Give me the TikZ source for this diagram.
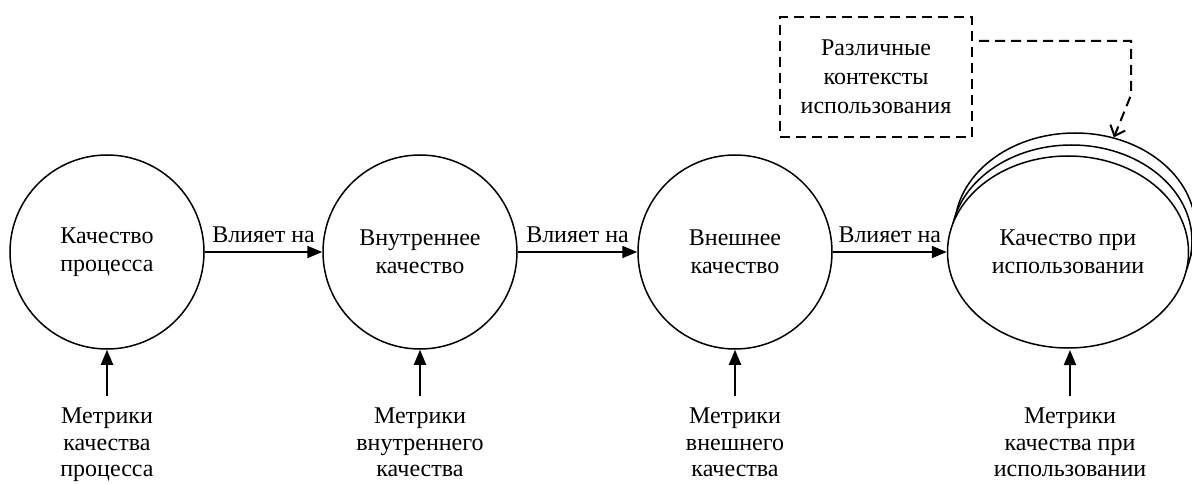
\documentclass[tikz,border=0pt]{standalone}
\usepackage{fontspec}
\setmainfont{Liberation Serif}
\usetikzlibrary{shapes.geometric,arrows.meta}
\begin{document}
\begin{tikzpicture}[x=1pt,y=-1pt,
  txt/.style={font=\fontsize{24}{27.5}\selectfont, align=center},
  circ/.style={circle, draw, line width=1.5pt, minimum size=194pt, inner sep=0pt, txt},
  ell/.style={ellipse, draw, line width=1.5pt, minimum width=241pt, minimum height=192pt, inner sep=0pt, txt, fill=white},
  flow/.style={line width=2pt, -{Triangle[length=15pt,width=12pt]}},
  lbl/.style={midway, above, inner sep=0pt, yshift=8pt, font=\fontsize{24}{27.5}\selectfont},
  metric/.style={font=\fontsize{24}{26.5}\selectfont, align=center, anchor=north, inner sep=0pt},
  dashbox/.style={draw, line width=2pt, dash pattern=on 10pt off 6pt, minimum width=192pt, minimum height=120pt, align=center, font=\fontsize{24}{29}\selectfont},
  dasharrow/.style={line width=2pt, dash pattern=on 10pt off 6pt, dash phase=10pt, -{Straight Barb[length=9pt,width=16pt]}}
]
\useasboundingbox (0,0) rectangle (1192,484);

\node[circ] (c1) at (107,252) {Качество\\процесса};
\node[circ] (c2) at (420,252) {Внутреннее\\качество};
\node[circ] (c3) at (735,252) {Внешнее\\качество};

\node[ell] (e3) at (1075,229) {};
\node[ell] (e2) at (1071.5,241) {};
\node[ell] (e1) at (1068,252) {Качество при\\использовании};

\draw[flow] (c1) -- node[lbl] {Влияет на} (c2);
\draw[flow] (c2) -- node[lbl] {Влияет на} (c3);
\draw[flow] (c3) -- node[lbl] {Влияет на} (e1);

\node[metric] (m1) at (107,408) {Метрики\\качества\\процесса};
\node[metric] (m2) at (420,408) {Метрики\\внутреннего\\качества};
\node[metric] (m3) at (735,408) {Метрики\\внешнего\\качества};
\node[metric] (m4) at (1070,408) {Метрики\\качества при\\использовании};

\draw[flow] (m1.north) ++(0,-12) -- (c1.south);
\draw[flow] (m2.north) ++(0,-12) -- (c2.south);
\draw[flow] (m3.north) ++(0,-12) -- (c3.south);
\draw[flow] (m4.north) ++(0,-12) -- (1070,350);

\node[dashbox] (ctx) at (876,77) {Различные\\контексты\\использования};
\coordinate (bend1) at (1131,41);
\coordinate (bend2) at (1131,95);
\draw[dasharrow] (ctx.east |- bend1) -- (bend1) -- (bend2) -- (e3.67);
\end{tikzpicture}
\end{document}
